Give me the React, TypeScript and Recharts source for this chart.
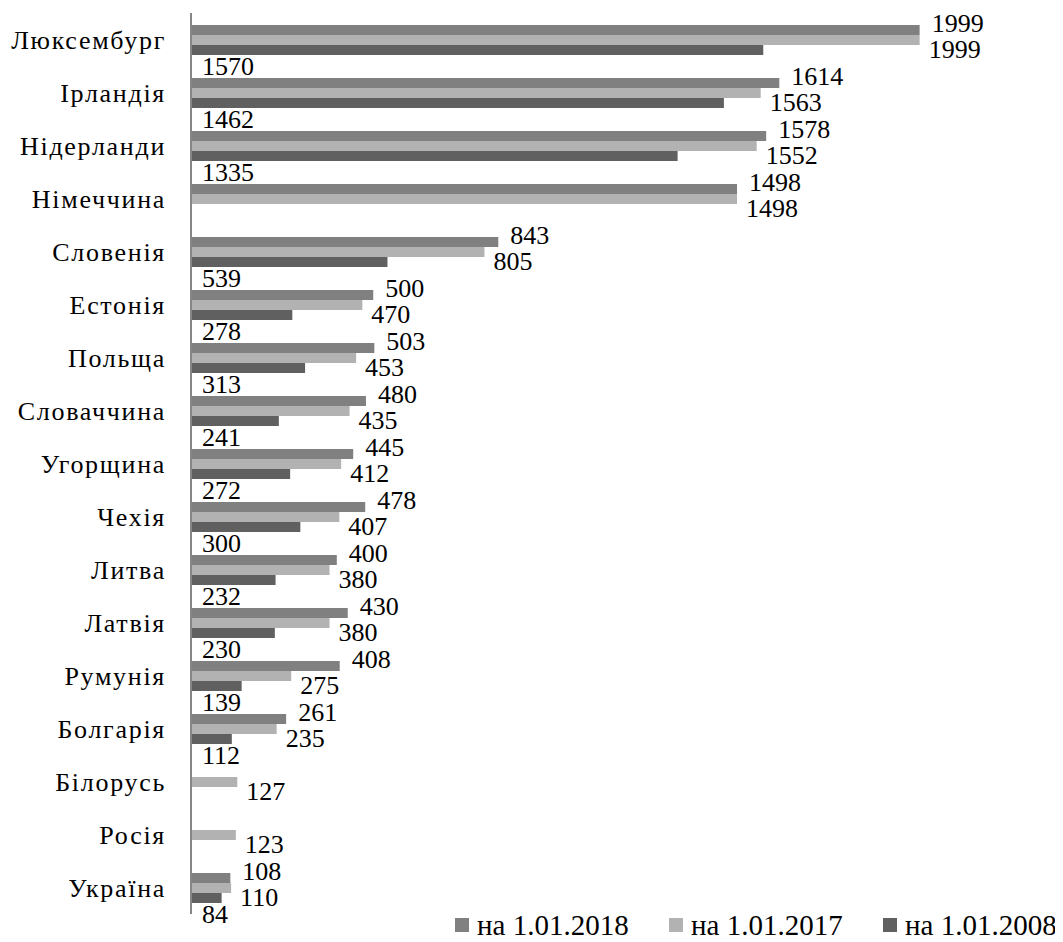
import React from "react";
import { BarChart, Bar, XAxis, YAxis, LabelList } from "recharts";

const categories = [
  "Люксембург",
  "Ірландія",
  "Нідерланди",
  "Німеччина",
  "Словенія",
  "Естонія",
  "Польща",
  "Словаччина",
  "Угорщина",
  "Чехія",
  "Литва",
  "Латвія",
  "Румунія",
  "Болгарія",
  "Білорусь",
  "Росія",
  "Україна",
];

const values2018 = [1999, 1614, 1578, 1498, 843, 500, 503, 480, 445, 478, 400, 430, 408, 261, null, null, 108];
const values2017 = [1999, 1563, 1552, 1498, 805, 470, 453, 435, 412, 407, 380, 380, 275, 235, 127, 123, 110];
const values2008 = [1570, 1462, 1335, null, 539, 278, 313, 241, 272, 300, 232, 230, 139, 112, null, null, 84];

const seriesNames = ["на 1.01.2018", "на 1.01.2017", "на 1.01.2008"];
const seriesColors = ["#808080", "#b2b2b2", "#606060"];

const FONT = "Liberation Serif, Tinos, DejaVu Serif, serif";
const FONT_SIZE = 26;
const LABEL_SIZE = 26;

const data = categories.map((name, i) => ({
  name,
  y2018: values2018[i],
  y2017: values2017[i],
  y2008: values2008[i],
}));

// label to the right of the bar end, nudged up or down
function endLabel(dy: number, dx: number) {
  return (props: any) => {
    const { x, y, width, height, value } = props;
    if (value == null) return null;
    return (
      <text
        x={x + width + dx}
        y={y + height / 2 + dy}
        dy="0.35em"
        fontFamily={FONT}
        fontSize={LABEL_SIZE}
        fill="#000"
        textAnchor="start"
      >
        {value}
      </text>
    );
  };
}

// 2008 labels sit under the bar, near the axis
function baseLabel(props: any) {
  const { x, y, height, value } = props;
  if (value == null) return null;
  return (
    <text
      x={x + 11}
      y={y + height / 2 + 16}
      dy="0.35em"
      fontFamily={FONT}
      fontSize={LABEL_SIZE}
      fill="#000"
      textAnchor="start"
    >
      {value}
    </text>
  );
}

function CategoryTick(props: any) {
  const { x, y, payload } = props;
  return (
    <text
      x={x - 17}
      y={y}
      dy="0.35em"
      fontFamily={FONT}
      fontSize={FONT_SIZE}
      letterSpacing={1.7}
      fill="#000"
      textAnchor="end"
    >
      {payload.value}
    </text>
  );
}

export default function App() {
  return (
    <div style={{ position: "relative", width: 1047, height: 934, background: "#fff" }}>
      <BarChart
        width={1047}
        height={934}
        data={data}
        layout="vertical"
        margin={{ top: 5, right: 135, left: 0, bottom: 28 }}
        barSize={10}
        barGap={0}
      >
        <XAxis type="number" domain={[0, 2000]} hide />
        <YAxis
          type="category"
          dataKey="name"
          width={183}
          axisLine={{ stroke: "#868686", strokeWidth: 2 }}
          tickLine={false}
          tick={<CategoryTick />}
          interval={0}
        />
        <Bar dataKey="y2018" fill={seriesColors[0]} isAnimationActive={false}>
          <LabelList dataKey="y2018" content={endLabel(-7, 12)} />
        </Bar>
        <Bar dataKey="y2017" fill={seriesColors[1]} isAnimationActive={false}>
          <LabelList dataKey="y2017" content={endLabel(9, 9)} />
        </Bar>
        <Bar dataKey="y2008" fill={seriesColors[2]} isAnimationActive={false}>
          <LabelList dataKey="y2008" content={baseLabel} />
        </Bar>
      </BarChart>
      <div
        style={{
          position: "absolute",
          left: 447,
          top: 902,
          display: "flex",
          fontFamily: FONT,
          fontSize: 29,
          lineHeight: "30px",
          whiteSpace: "nowrap",
        }}
      >
        {seriesNames.map((n, i) => (
          <div key={n} style={{ display: "flex", alignItems: "center", width: 214 }}>
            <span style={{ width: 14, height: 14, background: seriesColors[i], marginRight: 8, display: "inline-block" }} />
            <span>{n}</span>
          </div>
        ))}
      </div>
    </div>
  );
}
